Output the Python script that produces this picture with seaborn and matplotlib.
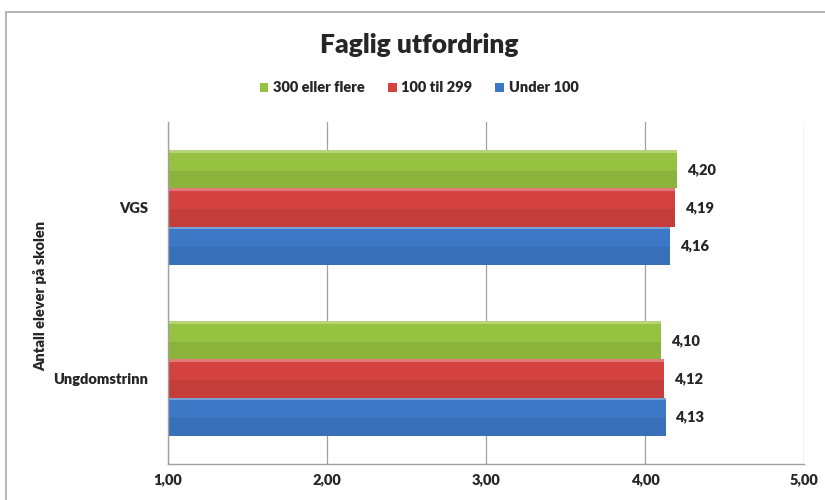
import pandas as pd
import seaborn as sns
import matplotlib.pyplot as plt
from matplotlib.ticker import FuncFormatter, FixedLocator
from matplotlib.patches import Rectangle

# data
trinn = ["VGS", "Ungdomstrinn"]
grupper = ["300 eller flere", "100 til 299", "Under 100"]
verdier_300 = [4.20, 4.10]
verdier_100 = [4.19, 4.12]
verdier_under = [4.16, 4.13]
farger = ["#97c241", "#d3423f", "#3c78c6"]

df = pd.DataFrame({
    "Trinn": trinn * 3,
    "Gruppe": [g for g in grupper for _ in trinn],
    "Snitt": verdier_300 + verdier_100 + verdier_under,
})

sns.set_style("white")
plt.rcParams["font.family"] = ["Lato", "DejaVu Sans"]
plt.rcParams["font.weight"] = "heavy"
VEKT = "heavy"

fig = plt.figure(figsize=(8.25, 5), dpi=100)
ax = fig.add_axes([168 / 825, 1 - 464 / 500, (804 - 168) / 825, (464 - 122) / 500])

sns.barplot(data=df, x="Snitt", y="Trinn", hue="Gruppe", order=trinn,
            hue_order=grupper, palette=farger, orient="h", width=0.667,
            saturation=1, edgecolor="none", linewidth=0, ax=ax, legend=True)

# light top edge / darker bottom half on each bar (rough bevel look)
for cont in ax.containers:
    for bar in cont:
        x0, y0 = bar.get_x(), bar.get_y()
        w, h = bar.get_width(), bar.get_height()
        ax.add_patch(Rectangle((x0, y0), w, h * 0.07, color="white", alpha=0.3,
                               lw=0, zorder=bar.get_zorder() + 0.1))
        ax.add_patch(Rectangle((x0, y0 + h * 0.55), w, h * 0.45, color="black",
                               alpha=0.07, lw=0, zorder=bar.get_zorder() + 0.1))
    ax.bar_label(cont, labels=[f"{b.get_width():.2f}".replace(".", ",") for b in cont],
                 padding=7, fontsize=10.5, fontweight=VEKT)

ax.set_xlim(1, 5)
ax.set_ylim(1.5, -0.5)
ax.set_xticks([1, 2, 3, 4, 5])
ax.xaxis.set_major_formatter(FuncFormatter(lambda v, p: f"{v:.2f}".replace(".", ",")))
ax.grid(axis="x", color="#a0a0a0", lw=0.9)
ax.set_axisbelow(True)

for s in ["top", "right"]:
    ax.spines[s].set_visible(False)
for s in ["left", "bottom"]:
    ax.spines[s].set_color("#a0a0a0")
    ax.spines[s].set_linewidth(1)

ax.tick_params(axis="x", length=5, color="#a0a0a0", direction="out", labelsize=10.5, pad=2)
ax.tick_params(axis="y", which="major", length=0, labelsize=10.5, pad=14)
ax.yaxis.set_minor_locator(FixedLocator([-0.5, 0.5, 1.5]))
ax.tick_params(axis="y", which="minor", length=5, color="#a0a0a0", direction="out")
for t in ax.get_xticklabels() + ax.get_yticklabels():
    t.set_fontweight(VEKT)

ax.set_xlabel("")
ax.set_ylabel("Antall elever på skolen", fontsize=10.5, fontweight=VEKT)
ax.yaxis.set_label_coords(-0.19, 0.49)

handles, labels = ax.get_legend_handles_labels()
ax.legend(handles, labels, loc="center", bbox_to_anchor=(419 / 825, 1 - 88 / 500),
          bbox_transform=fig.transFigure, ncol=3, frameon=False,
          handlelength=0.6, handleheight=0.6, handletextpad=0.3, columnspacing=1.6,
          prop={"weight": VEKT, "size": 10.5})

fig.text(419 / 825, 1 - 45 / 500, "Faglig utfordring", ha="center", va="center",
         fontsize=19, fontweight=VEKT)

# chart frame
fig.patches.append(Rectangle((6 / 825, -0.1), 1.1, 1 - 12 / 500 + 0.1, transform=fig.transFigure,
                             fill=False, edgecolor="#a8a8a8", lw=1.2))

fig.savefig("out.png", dpi=100)
